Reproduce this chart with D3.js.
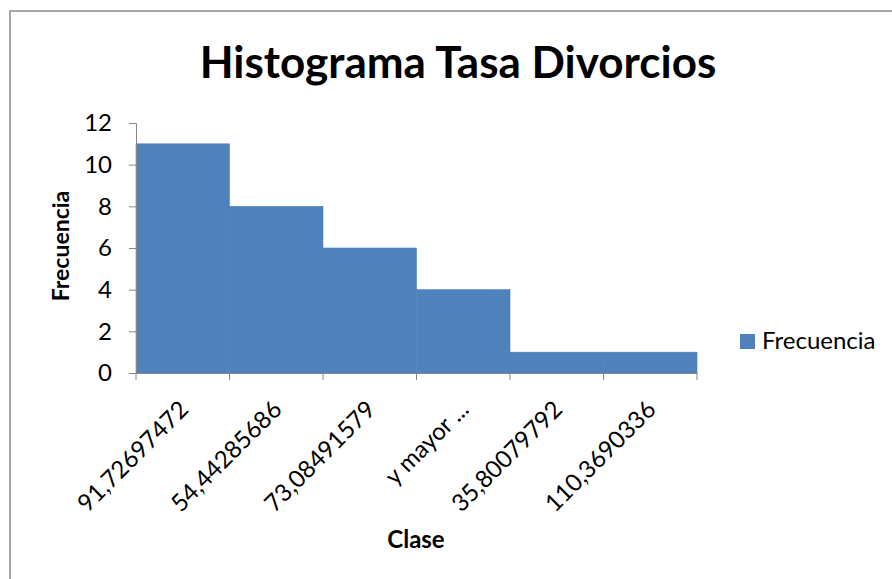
<!DOCTYPE html>
<html>
<head>
<meta charset="utf-8">
<script src="https://cdn.jsdelivr.net/npm/d3@7"></script>
<style>
  html, body { margin: 0; padding: 0; background: #fff; }
  svg { display: block; }
  text { font-family: Lato, "Open Sans", sans-serif; fill: #000; }
</style>
</head>
<body>
<script>
const categories = ["91,72697472", "54,44285686", "73,08491579", "y mayor ...", "35,80079792", "110,3690336"];
const frecuencia = [11, 8, 6, 4, 1, 1];
const yTicks = [0, 2, 4, 6, 8, 10, 12];
const titleText = "Histograma Tasa Divorcios";
const xTitle = "Clase";
const yTitle = "Frecuencia";
const seriesName = "Frecuencia";

const W = 892, H = 579;
const svg = d3.select("body").append("svg").attr("width", W).attr("height", H);

// chart border
svg.append("rect").attr("x", 10).attr("y", 11).attr("width", 900).attr("height", 600)
  .attr("fill", "none").attr("stroke", "#8a8a8a").attr("stroke-width", 1.5);

const plot = {left: 136, right: 697, top: 123, bottom: 373};
const x = d3.scaleBand().domain(categories).range([plot.left, plot.right]).padding(0);
const y = d3.scaleLinear().domain([0, 12]).range([plot.bottom, plot.top]);

// bars
svg.append("g").selectAll("rect").data(frecuencia).join("rect")
  .attr("x", (d, i) => x(categories[i]))
  .attr("y", d => y(d))
  .attr("width", x.bandwidth())
  .attr("height", d => y(0) - y(d))
  .attr("fill", "#4F81BD")
  .attr("stroke", "#4F81BD")
  .attr("stroke-width", 0.6);

// y axis
const yAxis = svg.append("g").attr("transform", `translate(${plot.left},0)`)
  .call(d3.axisLeft(y).tickValues(yTicks).tickSize(7).tickPadding(17).tickFormat(d3.format("d")));
yAxis.select(".domain").attr("stroke", "#868686");
yAxis.selectAll(".tick line").attr("stroke", "#868686");
yAxis.selectAll(".tick text").attr("font-size", 24).attr("font-family", "Lato, sans-serif").attr("fill", "#000");

// x axis
const xAxis = svg.append("g").attr("transform", `translate(0,${plot.bottom})`)
  .call(d3.axisBottom(x).tickSize(0).tickFormat(""));
xAxis.select(".domain").attr("stroke", "#868686");
xAxis.selectAll(".tick").remove();
const bounds = categories.map(c => x(c)).concat([plot.right]);
xAxis.selectAll("line.xt").data(bounds).join("line").attr("class", "xt")
  .attr("x1", d => d).attr("x2", d => d).attr("y1", 0).attr("y2", 7)
  .attr("stroke", "#868686");

// rotated x labels
svg.append("g").selectAll("text").data(categories).join("text")
  .attr("transform", d => `translate(${x(d) + x.bandwidth() / 2 + 7},${plot.bottom + 38}) rotate(-45)`)
  .attr("text-anchor", "end")
  .attr("font-size", 24)
  .text(d => d);

// title
svg.append("text").attr("x", 458).attr("y", 78).attr("text-anchor", "middle")
  .attr("font-size", 44).attr("font-weight", "bold").text(titleText);

// axis titles
svg.append("text").attr("x", 416).attr("y", 548).attr("text-anchor", "middle")
  .attr("font-size", 24).attr("font-weight", "bold").text(xTitle);
svg.append("text").attr("transform", "translate(69,246) rotate(-90)").attr("text-anchor", "middle")
  .attr("font-size", 23).attr("font-weight", "bold").text(yTitle);

// legend
svg.append("rect").attr("x", 740).attr("y", 334).attr("width", 15).attr("height", 15).attr("fill", "#4F81BD");
svg.append("text").attr("x", 762).attr("y", 349).attr("font-size", 24).text(seriesName);
</script>
</body>
</html>
